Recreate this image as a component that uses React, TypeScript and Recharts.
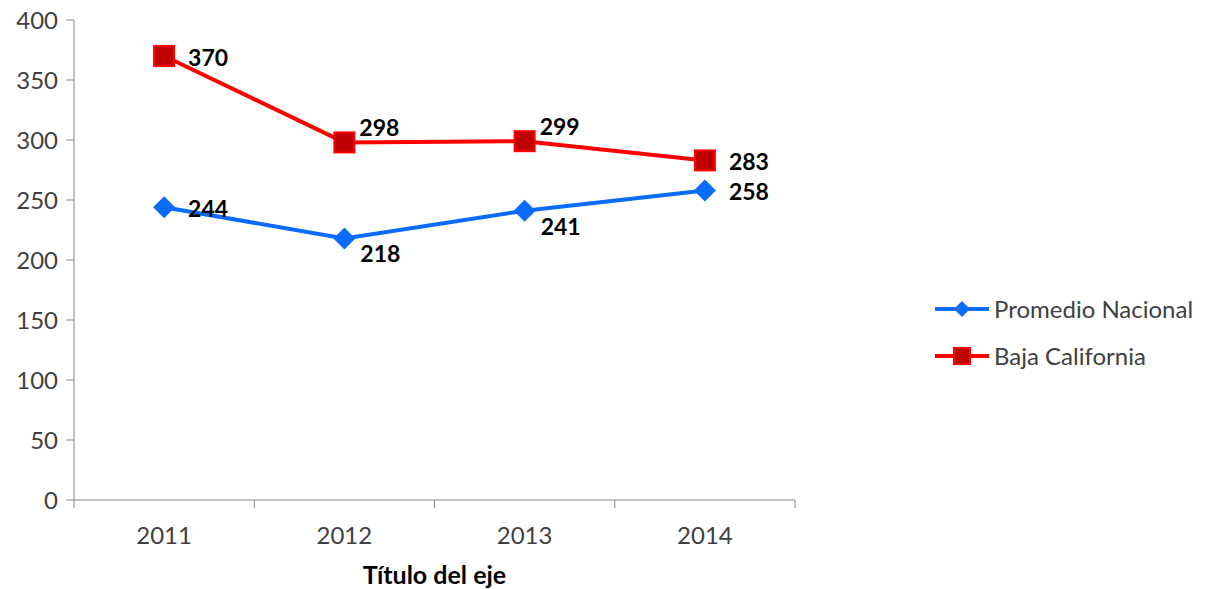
import { LineChart, Line, XAxis, YAxis, LabelList } from "recharts";

const years = ["2011", "2012", "2013", "2014"];
const promedioNacional = [244, 218, 241, 258];
const bajaCalifornia = [370, 298, 299, 283];
const yTicks = [0, 50, 100, 150, 200, 250, 300, 350, 400];
const seriesNames = ["Promedio Nacional", "Baja California"];

const data = years.map((year, i) => ({
  year,
  nacional: promedioNacional[i],
  baja: bajaCalifornia[i],
}));

// excel-like label placement: r = right, ur = up-right, br = down-right
const nacionalLabelPos = ["r", "br", "br", "r"];
const bajaLabelPos = ["r", "ur", "ur", "r"];
const labelOffset: Record<string, [number, number]> = {
  r: [24, 1],
  ur: [15, -15],
  br: [16, 15],
};

const FONT = "Lato, 'Open Sans', sans-serif";
const BLUE = "#0A6CFF";
const RED = "#FF0000";
const DARK_RED = "#C00000";
const AXIS = "#868686";
const HALF_BAND = 90.1;

const Diamond = ({ cx, cy, size = 11 }: any) => {
  if (cx == null || cy == null) return null;
  const r = size;
  return (
    <polygon
      points={`${cx},${cy - r} ${cx + r},${cy} ${cx},${cy + r} ${cx - r},${cy}`}
      fill={BLUE}
    />
  );
};

const Square = ({ cx, cy, size = 10 }: any) => {
  if (cx == null || cy == null) return null;
  const s = size;
  return (
    <rect x={cx - s} y={cy - s} width={s * 2} height={s * 2} fill={DARK_RED} stroke={RED} strokeWidth={2} />
  );
};

const makeLabel = (positions: string[]) => (props: any) => {
  const { x, y, value, index } = props;
  const [dx, dy] = labelOffset[positions[index]] || [20, 0];
  return (
    <text
      x={x + dx}
      y={y + dy}
      dominantBaseline="central"
      fontFamily={FONT}
      fontSize={23}
      fontWeight={700}
      fill="#000"
    >
      {value}
    </text>
  );
};

const YearTick = (props: any) => {
  const { x, payload, index } = props;
  return (
    <g>
      <line x1={x - HALF_BAND} x2={x - HALF_BAND} y1={500} y2={508} stroke={AXIS} />
      {index === years.length - 1 && (
        <line x1={x + HALF_BAND} x2={x + HALF_BAND} y1={500} y2={508} stroke={AXIS} />
      )}
      <text x={x} y={544} textAnchor="middle" fontFamily={FONT} fontSize={24} fill="#404040">
        {payload.value}
      </text>
    </g>
  );
};

const LegendBox = () => (
  <div style={{ position: "absolute", left: 932, top: 285, fontFamily: FONT, fontSize: 24, color: "#404040" }}>
    {seriesNames.map((name, i) => (
      <div key={name} style={{ display: "flex", alignItems: "center", height: 47 }}>
        <svg width={60} height={24} style={{ marginRight: 2 }}>
          <line x1={3} x2={57} y1={12} y2={12} stroke={i === 0 ? BLUE : RED} strokeWidth={4} />
          {i === 0 ? <Diamond cx={30} cy={12} size={8} /> : <Square cx={30} cy={12} size={8} />}
        </svg>
        <span>{name}</span>
      </div>
    ))}
  </div>
);

export default function App() {
  return (
    <div style={{ position: "absolute", left: 0, top: 0, width: 1209, height: 589, background: "#fff" }}>
      <LineChart width={1209} height={589} data={data} margin={{ top: 20, right: 414, left: 10, bottom: 0 }}>
        <XAxis
          dataKey="year"
          height={89}
          padding={{ left: HALF_BAND, right: HALF_BAND }}
          axisLine={{ stroke: AXIS }}
          tickLine={false}
          tick={<YearTick />}
          label={{
            value: "Título del eje",
            position: "insideBottom",
            offset: 5,
            style: { fontFamily: FONT, fontSize: 25, fontWeight: 700, fill: "#000" },
          }}
        />
        <YAxis
          width={64}
          domain={[0, 400]}
          ticks={yTicks}
          interval={0}
          axisLine={{ stroke: AXIS }}
          tickLine={{ stroke: AXIS }}
          tickSize={8}
          tickMargin={8}
          tick={{ fontFamily: FONT, fontSize: 24, fill: "#404040" }}
        />
        <Line
          name={seriesNames[0]}
          dataKey="nacional"
          stroke={BLUE}
          strokeWidth={4}
          dot={<Diamond />}
          activeDot={false}
          isAnimationActive={false}
        >
          <LabelList dataKey="nacional" content={makeLabel(nacionalLabelPos)} />
        </Line>
        <Line
          name={seriesNames[1]}
          dataKey="baja"
          stroke={RED}
          strokeWidth={4}
          dot={<Square />}
          activeDot={false}
          isAnimationActive={false}
        >
          <LabelList dataKey="baja" content={makeLabel(bajaLabelPos)} />
        </Line>
      </LineChart>
      <LegendBox />
    </div>
  );
}
